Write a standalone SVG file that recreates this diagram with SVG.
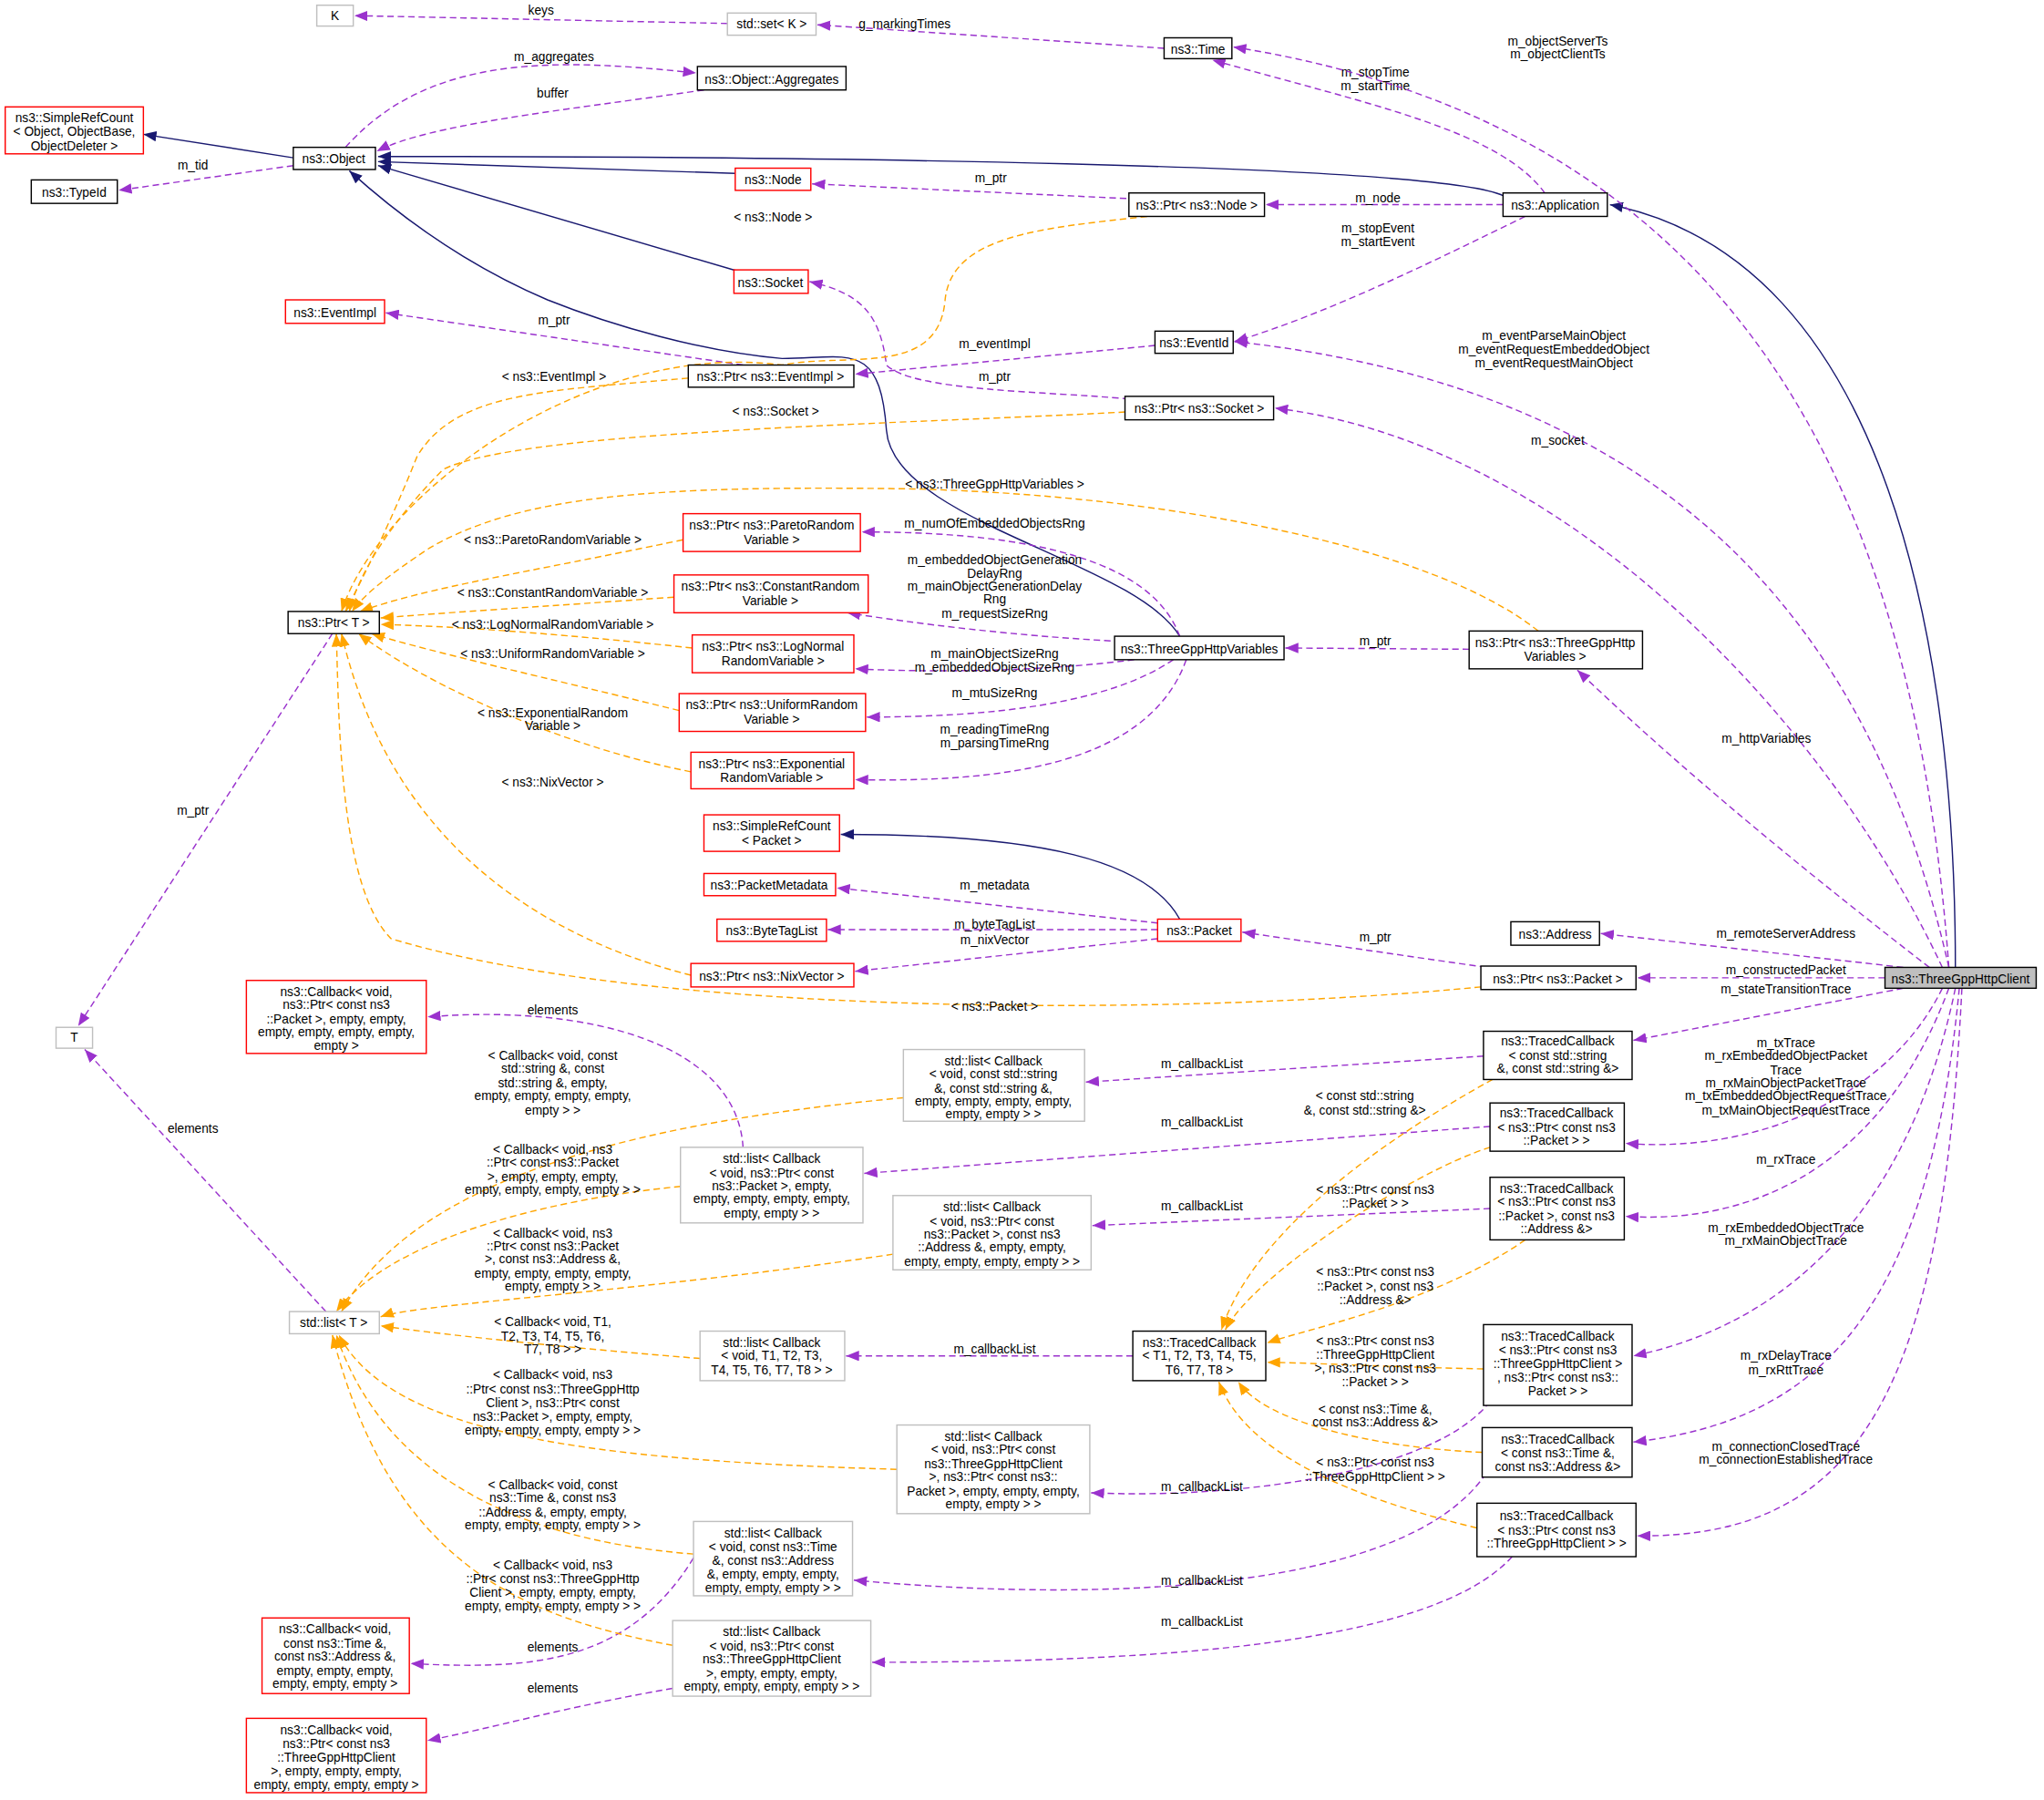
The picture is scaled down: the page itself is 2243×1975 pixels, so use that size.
<svg xmlns="http://www.w3.org/2000/svg" width="2243" height="1975" viewBox="0 0 2243 1975">
<style>
text{font-family:"Liberation Sans",Arial,sans-serif;font-size:9.6px;text-anchor:middle;fill:#000}
.b{fill:#fff;stroke:#000;stroke-width:1}
.r{fill:#fff;stroke:#ff0000;stroke-width:1}
.g{fill:#fff;stroke:#bfbfbf;stroke-width:1}
.s{fill:#bfbfbf;stroke:#000;stroke-width:1}
.n{fill:none;stroke:#191970;stroke-width:1;marker-end:url(#an)}
.p{fill:none;stroke:#9a32cd;stroke-width:1;stroke-dasharray:5,3;marker-end:url(#ap)}
.o{fill:none;stroke:#ffa500;stroke-width:1;stroke-dasharray:5,3;marker-end:url(#ao)}
</style>
<defs>
<marker id="an" viewBox="0 0 10 8" refX="10" refY="4" markerWidth="10" markerHeight="8" markerUnits="userSpaceOnUse" orient="auto"><path d="M0,0L10,4L0,8z" fill="#191970"/></marker>
<marker id="ap" viewBox="0 0 10 8" refX="10" refY="4" markerWidth="10" markerHeight="8" markerUnits="userSpaceOnUse" orient="auto"><path d="M0,0L10,4L0,8z" fill="#9a32cd"/></marker>
<marker id="ao" viewBox="0 0 10 8" refX="10" refY="4" markerWidth="10" markerHeight="8" markerUnits="userSpaceOnUse" orient="auto"><path d="M0,0L10,4L0,8z" fill="#ffa500"/></marker>
</defs>
<rect width="2243" height="1975" fill="#fff"/>
<g transform="scale(1.4305)">
<g id="connectors">
<path class="n" d="M225,121L110,103"/>
<path class="n" d="M1153,150C1100,125 600,120 290,120"/>
<path class="n" d="M564,133L290,124"/>
<path class="n" d="M566,208L290,127"/>
<path class="n" d="M905,488C870,430 685,400 680,330C675,260 650,275 600,275C540,270 470,250 420,230C350,200 300,160 268,131"/>
<path class="n" d="M1500,742C1500,500 1450,200 1235,157"/>
<path class="n" d="M905,705C880,660 800,640 645,640"/>
<path class="p" d="M558,18L272,12"/><text x="415" y="11">keys</text>
<path class="p" d="M893,37L627,19"/><text x="694" y="22">g_markingTimes</text>
<path class="p" d="M265,113C330,40 430,45 534,56"/><text x="425" y="47">m_aggregates</text>
<path class="p" d="M540,69C430,85 330,95 289,116"/><text x="424" y="75">buffer</text>
<path class="p" d="M225,127L91,146"/><text x="148" y="130">m_tid</text>
<path class="p" d="M880,153L623,141"/><text x="760" y="140">m_ptr</text>
<path class="p" d="M1153,157L971,157"/><text x="1057" y="155">m_node</text>
<path class="p" d="M1185,148C1150,100 1050,80 930,46"/><text x="1055" y="59">m_stopTime</text><text x="1055" y="69">m_startTime</text>
<path class="p" d="M1170,166C1100,200 1020,240 947,262"/><text x="1057" y="178">m_stopEvent</text><text x="1057" y="189">m_startEvent</text>
<path class="p" d="M886,265L656,287"/><text x="763" y="267">m_eventImpl</text>
<path class="p" d="M570,280L296,240"/><text x="425" y="249">m_ptr</text>
<path class="p" d="M866,306C800,300 700,300 680,280C675,240 660,225 621,216"/><text x="763" y="292">m_ptr</text>
<path class="p" d="M1495,742C1470,400 1350,100 946,36"/><text x="1195" y="35">m_objectServerTs</text><text x="1195" y="45">m_objectClientTs</text>
<path class="p" d="M1495,742C1440,500 1300,300 947,262"/><text x="1192" y="261">m_eventParseMainObject</text><text x="1192" y="271">m_eventRequestEmbeddedObject</text><text x="1192" y="282">m_eventRequestMainObject</text>
<path class="p" d="M1490,742C1400,550 1200,340 978,313"/><text x="1195" y="341">m_socket</text>
<path class="p" d="M1480,742C1400,680 1300,600 1210,514"/><text x="1355" y="570">m_httpVariables</text>
<path class="p" d="M1127,498L986,497"/><text x="1055" y="495">m_ptr</text>
<path class="p" d="M905,488C880,420 760,408 661,408"/><text x="763" y="405">m_numOfEmbeddedObjectsRng</text>
<path class="p" d="M860,492C780,488 700,478 650,470"/><text x="763" y="433">m_embeddedObjectGeneration</text><text x="763" y="443">DelayRng</text><text x="763" y="453">m_mainObjectGenerationDelay</text><text x="763" y="463">Rng</text><text x="763" y="474">m_requestSizeRng</text>
<path class="p" d="M870,506C800,515 720,516 656,513"/><text x="763" y="505">m_mainObjectSizeRng</text><text x="763" y="515">m_embeddedObjectSizeRng</text>
<path class="p" d="M900,506C850,540 760,550 665,550"/><text x="763" y="535">m_mtuSizeRng</text>
<path class="p" d="M910,506C880,590 760,600 656,598"/><text x="763" y="563">m_readingTimeRng</text><text x="763" y="573">m_parsingTimeRng</text>
<path class="p" d="M888,708L642,681"/><text x="763" y="682">m_metadata</text>
<path class="p" d="M888,713L635,713"/><text x="763" y="712">m_byteTagList</text>
<path class="p" d="M888,720L656,745"/><text x="763" y="724">m_nixVector</text>
<path class="p" d="M1140,742L953,715"/><text x="1055" y="722">m_ptr</text>
<path class="p" d="M1460,742L1228,716"/><text x="1370" y="719">m_remoteServerAddress</text>
<path class="p" d="M1446,750L1256,750"/><text x="1370" y="747">m_constructedPacket</text>
<path class="p" d="M1460,758L1253,798"/><text x="1370" y="762">m_stateTransitionTrace</text>
<path class="p" d="M1490,758C1450,840 1350,885 1247,877"/><text x="1370" y="803">m_txTrace</text><text x="1370" y="813">m_rxEmbeddedObjectPacket</text><text x="1370" y="824">Trace</text><text x="1370" y="834">m_rxMainObjectPacketTrace</text><text x="1370" y="844">m_txEmbeddedObjectRequestTrace</text><text x="1370" y="855">m_txMainObjectRequestTrace</text>
<path class="p" d="M1495,758C1450,880 1360,940 1247,933"/><text x="1370" y="893">m_rxTrace</text>
<path class="p" d="M1500,758C1460,950 1350,1020 1253,1040"/><text x="1370" y="945">m_rxEmbeddedObjectTrace</text><text x="1370" y="955">m_rxMainObjectTrace</text>
<path class="p" d="M1503,758C1480,1000 1400,1090 1253,1106"/><text x="1370" y="1043">m_rxDelayTrace</text><text x="1370" y="1054">m_rxRttTrace</text>
<path class="p" d="M1505,758C1490,1060 1430,1180 1256,1178"/><text x="1370" y="1113">m_connectionClosedTrace</text><text x="1370" y="1123">m_connectionEstablishedTrace</text>
<path class="p" d="M255,486L60,787"/><text x="148" y="625">m_ptr</text>
<path class="p" d="M250,1006L65,805"/><text x="148" y="869">elements</text>
<path class="p" d="M1138,810L833,830"/><text x="922" y="819">m_callbackList</text>
<path class="p" d="M1143,864L663,900"/><text x="922" y="864">m_callbackList</text>
<path class="p" d="M1143,927L838,940"/><text x="922" y="928">m_callbackList</text>
<path class="p" d="M869,1040L649,1040"/><text x="763" y="1038">m_callbackList</text>
<path class="p" d="M1143,1075C1100,1130 950,1150 837,1145"/><text x="922" y="1144">m_callbackList</text>
<path class="p" d="M1140,1130C1080,1220 850,1230 655,1212"/><text x="922" y="1216">m_callbackList</text>
<path class="p" d="M1160,1194C1100,1260 900,1275 669,1275"/><text x="922" y="1247">m_callbackList</text>
<path class="p" d="M570,880C565,800 450,770 328,780"/><text x="424" y="778">elements</text>
<path class="p" d="M532,1195C480,1280 400,1280 315,1276"/><text x="424" y="1267">elements</text>
<path class="p" d="M516,1295C430,1310 380,1325 328,1335"/><text x="424" y="1298">elements</text>
<path class="o" d="M880,166C800,175 730,180 725,230C720,290 650,270 600,280C450,260 290,380 262,469"/><text x="593" y="170">&lt; ns3::Node &gt;</text>
<path class="o" d="M528,290C420,300 350,300 320,350C300,400 280,440 265,469"/><text x="425" y="292">&lt; ns3::EventImpl &gt;</text>
<path class="o" d="M863,316C700,325 400,330 340,360C300,400 275,440 268,469"/><text x="595" y="319">&lt; ns3::Socket &gt;</text>
<path class="o" d="M1180,484C1100,420 900,380 700,375C500,372 400,380 330,420C300,440 280,455 270,469"/><text x="763" y="375">&lt; ns3::ThreeGppHttpVariables &gt;</text>
<path class="o" d="M524,414C400,440 330,450 276,469"/><text x="424" y="417">&lt; ns3::ParetoRandomVariable &gt;</text>
<path class="o" d="M517,458C420,465 340,470 292,474"/><text x="424" y="458">&lt; ns3::ConstantRandomVariable &gt;</text>
<path class="o" d="M531,497C420,485 340,480 292,479"/><text x="424" y="482">&lt; ns3::LogNormalRandomVariable &gt;</text>
<path class="o" d="M521,545C420,520 330,500 285,486"/><text x="424" y="505">&lt; ns3::UniformRandomVariable &gt;</text>
<path class="o" d="M530,592C420,570 320,520 275,486"/><text x="424" y="550">&lt; ns3::ExponentialRandom</text><text x="424" y="560">Variable &gt;</text>
<path class="o" d="M530,748C420,720 300,650 262,486"/><text x="424" y="603">&lt; ns3::NixVector &gt;</text>
<path class="o" d="M1136,757C900,780 500,780 300,720C260,680 260,550 258,486"/><text x="763" y="775">&lt; ns3::Packet &gt;</text>
<path class="o" d="M693,842C500,860 320,900 262,1006"/><text x="424" y="813">&lt; Callback&lt; void, const</text><text x="424" y="823">std::string &amp;, const</text><text x="424" y="834">std::string &amp;, empty,</text><text x="424" y="844">empty, empty, empty, empty,</text><text x="424" y="855">empty &gt; &gt;</text>
<path class="o" d="M522,910C420,920 300,950 258,1006"/><text x="424" y="885">&lt; Callback&lt; void, ns3</text><text x="424" y="895">::Ptr&lt; const ns3::Packet</text><text x="424" y="906">&gt;, empty, empty, empty,</text><text x="424" y="916">empty, empty, empty, empty &gt; &gt;</text>
<path class="o" d="M685,962C500,990 320,1000 292,1010"/><text x="424" y="949">&lt; Callback&lt; void, ns3</text><text x="424" y="959">::Ptr&lt; const ns3::Packet</text><text x="424" y="969">&gt;, const ns3::Address &amp;,</text><text x="424" y="980">empty, empty, empty, empty,</text><text x="424" y="990">empty, empty &gt; &gt;</text>
<path class="o" d="M537,1042C450,1035 350,1025 292,1017"/><text x="424" y="1017">&lt; Callback&lt; void, T1,</text><text x="424" y="1028">T2, T3, T4, T5, T6,</text><text x="424" y="1038">T7, T8 &gt; &gt;</text>
<path class="o" d="M688,1127C450,1120 300,1100 260,1024"/><text x="424" y="1058">&lt; Callback&lt; void, ns3</text><text x="424" y="1069">::Ptr&lt; const ns3::ThreeGppHttp</text><text x="424" y="1079">Client &gt;, ns3::Ptr&lt; const</text><text x="424" y="1090">ns3::Packet &gt;, empty, empty,</text><text x="424" y="1100">empty, empty, empty, empty &gt; &gt;</text>
<path class="o" d="M532,1192C380,1180 290,1120 258,1024"/><text x="424" y="1142">&lt; Callback&lt; void, const</text><text x="424" y="1152">ns3::Time &amp;, const ns3</text><text x="424" y="1163">::Address &amp;, empty, empty,</text><text x="424" y="1173">empty, empty, empty, empty &gt; &gt;</text>
<path class="o" d="M516,1262C400,1240 300,1200 255,1024"/><text x="424" y="1204">&lt; Callback&lt; void, ns3</text><text x="424" y="1214">::Ptr&lt; const ns3::ThreeGppHttp</text><text x="424" y="1225">Client &gt;, empty, empty, empty,</text><text x="424" y="1235">empty, empty, empty, empty &gt; &gt;</text>
<path class="o" d="M1145,828C1050,880 960,950 937,1020"/><text x="1047" y="844">&lt; const std::string</text><text x="1047" y="855">&amp;, const std::string &amp;&gt;</text>
<path class="o" d="M1143,880C1080,900 960,980 940,1020"/><text x="1055" y="916">&lt; ns3::Ptr&lt; const ns3</text><text x="1055" y="926">::Packet &gt; &gt;</text>
<path class="o" d="M1170,951C1100,1000 1000,1020 972,1030"/><text x="1055" y="979">&lt; ns3::Ptr&lt; const ns3</text><text x="1055" y="990">::Packet &gt;, const ns3</text><text x="1055" y="1000">::Address &amp;&gt;</text>
<path class="o" d="M1138,1050C1050,1048 1000,1045 972,1045"/><text x="1055" y="1032">&lt; ns3::Ptr&lt; const ns3</text><text x="1055" y="1042">::ThreeGppHttpClient</text><text x="1055" y="1053">&gt;, ns3::Ptr&lt; const ns3</text><text x="1055" y="1063">::Packet &gt; &gt;</text>
<path class="o" d="M1137,1114C1050,1110 970,1090 950,1060"/><text x="1055" y="1084">&lt; const ns3::Time &amp;,</text><text x="1055" y="1094">const ns3::Address &amp;&gt;</text>
<path class="o" d="M1133,1172C1000,1140 950,1100 935,1060"/><text x="1055" y="1125">&lt; ns3::Ptr&lt; const ns3</text><text x="1055" y="1136">::ThreeGppHttpClient &gt; &gt;</text>
</g>
<g id="K"><rect class="g" x="243" y="4" width="28" height="16"/><text x="257" y="15.5">K</text></g>
<g id="set"><rect class="g" x="558" y="10" width="68" height="17"/><text x="592" y="22">std::set&lt; K &gt;</text></g>
<g id="Time"><rect class="b" x="893" y="29" width="52" height="16"/><text x="919" y="41">ns3::Time</text></g>
<g id="Aggregates"><rect class="b" x="535" y="51" width="114" height="18"/><text x="592" y="64">ns3::Object::Aggregates</text></g>
<g id="SimpleRefCountObject"><rect class="r" x="4" y="82" width="106" height="36"/><text x="57" y="94">ns3::SimpleRefCount</text><text x="57" y="104">&lt; Object, ObjectBase,</text><text x="57" y="115">ObjectDeleter &gt;</text></g>
<g id="TypeId"><rect class="b" x="24" y="138" width="66" height="18"/><text x="57" y="151">ns3::TypeId</text></g>
<g id="Object"><rect class="b" x="225" y="113" width="63" height="17"/><text x="256" y="125">ns3::Object</text></g>
<g id="Node"><rect class="r" x="564" y="129" width="58" height="17"/><text x="593" y="141">ns3::Node</text></g>
<g id="PtrNode"><rect class="b" x="866" y="148" width="104" height="18"/><text x="918" y="161">ns3::Ptr&lt; ns3::Node &gt;</text></g>
<g id="Application"><rect class="b" x="1153" y="148" width="80" height="18"/><text x="1193" y="161">ns3::Application</text></g>
<g id="Socket"><rect class="r" x="563" y="207" width="57" height="18"/><text x="591" y="220">ns3::Socket</text></g>
<g id="EventImpl"><rect class="r" x="219" y="230" width="76" height="18"/><text x="257" y="243">ns3::EventImpl</text></g>
<g id="EventId"><rect class="b" x="886" y="254" width="60" height="17"/><text x="916" y="266">ns3::EventId</text></g>
<g id="PtrEventImpl"><rect class="b" x="528" y="280" width="127" height="17"/><text x="591" y="292">ns3::Ptr&lt; ns3::EventImpl &gt;</text></g>
<g id="PtrSocket"><rect class="b" x="863" y="304" width="114" height="18"/><text x="920" y="317">ns3::Ptr&lt; ns3::Socket &gt;</text></g>
<g id="PtrPareto"><rect class="r" x="524" y="394" width="136" height="29"/><text x="592" y="406">ns3::Ptr&lt; ns3::ParetoRandom</text><text x="592" y="417">Variable &gt;</text></g>
<g id="PtrConstant"><rect class="r" x="517" y="441" width="149" height="29"/><text x="591" y="453">ns3::Ptr&lt; ns3::ConstantRandom</text><text x="591" y="464">Variable &gt;</text></g>
<g id="PtrT"><rect class="b" x="221" y="469" width="70" height="17"/><text x="256" y="481">ns3::Ptr&lt; T &gt;</text></g>
<g id="PtrLogNormal"><rect class="r" x="531" y="487" width="124" height="29"/><text x="593" y="499">ns3::Ptr&lt; ns3::LogNormal</text><text x="593" y="510">RandomVariable &gt;</text></g>
<g id="Vars"><rect class="b" x="855" y="488" width="130" height="18"/><text x="920" y="501">ns3::ThreeGppHttpVariables</text></g>
<g id="PtrVars"><rect class="b" x="1127" y="484" width="133" height="29"/><text x="1193" y="496">ns3::Ptr&lt; ns3::ThreeGppHttp</text><text x="1193" y="507">Variables &gt;</text></g>
<g id="PtrUniform"><rect class="r" x="521" y="532" width="143" height="29"/><text x="592" y="544">ns3::Ptr&lt; ns3::UniformRandom</text><text x="592" y="555">Variable &gt;</text></g>
<g id="PtrExponential"><rect class="r" x="530" y="577" width="125" height="28"/><text x="592" y="589">ns3::Ptr&lt; ns3::Exponential</text><text x="592" y="600">RandomVariable &gt;</text></g>
<g id="SimpleRefCountPacket"><rect class="r" x="540" y="625" width="104" height="28"/><text x="592" y="637">ns3::SimpleRefCount</text><text x="592" y="648">&lt; Packet &gt;</text></g>
<g id="PacketMetadata"><rect class="r" x="540" y="670" width="101" height="17"/><text x="590" y="682">ns3::PacketMetadata</text></g>
<g id="ByteTagList"><rect class="r" x="550" y="705" width="84" height="17"/><text x="592" y="717">ns3::ByteTagList</text></g>
<g id="Packet"><rect class="r" x="888" y="705" width="64" height="17"/><text x="920" y="717">ns3::Packet</text></g>
<g id="Address"><rect class="b" x="1159" y="707" width="68" height="18"/><text x="1193" y="720">ns3::Address</text></g>
<g id="PtrNixVector"><rect class="r" x="530" y="739" width="125" height="18"/><text x="592" y="752">ns3::Ptr&lt; ns3::NixVector &gt;</text></g>
<g id="PtrPacket"><rect class="b" x="1136" y="741" width="119" height="18"/><text x="1195" y="754">ns3::Ptr&lt; ns3::Packet &gt;</text></g>
<g id="Client"><rect class="s" x="1446" y="742" width="116" height="16"/><text x="1504" y="754">ns3::ThreeGppHttpClient</text></g>
<g id="CallbackPacket"><rect class="r" x="189" y="752" width="138" height="56"/><text x="258" y="764">ns3::Callback&lt; void,</text><text x="258" y="774">ns3::Ptr&lt; const ns3</text><text x="258" y="785">::Packet &gt;, empty, empty,</text><text x="258" y="795">empty, empty, empty, empty,</text><text x="258" y="805">empty &gt;</text></g>
<g id="T"><rect class="g" x="43" y="788" width="28" height="16"/><text x="57" y="799">T</text></g>
<g id="TCString"><rect class="b" x="1138" y="791" width="114" height="37"/><text x="1195" y="802">ns3::TracedCallback</text><text x="1195" y="813">&lt; const std::string</text><text x="1195" y="823">&amp;, const std::string &amp;&gt;</text></g>
<g id="ListString"><rect class="g" x="693" y="805" width="139" height="55"/><text x="762" y="817">std::list&lt; Callback</text><text x="762" y="827">&lt; void, const std::string</text><text x="762" y="838">&amp;, const std::string &amp;,</text><text x="762" y="848">empty, empty, empty, empty,</text><text x="762" y="858">empty, empty &gt; &gt;</text></g>
<g id="TCPacket"><rect class="b" x="1143" y="846" width="103" height="37"/><text x="1194" y="857">ns3::TracedCallback</text><text x="1194" y="868">&lt; ns3::Ptr&lt; const ns3</text><text x="1194" y="878">::Packet &gt; &gt;</text></g>
<g id="ListPacket"><rect class="g" x="522" y="880" width="140" height="58"/><text x="592" y="892">std::list&lt; Callback</text><text x="592" y="903">&lt; void, ns3::Ptr&lt; const</text><text x="592" y="913">ns3::Packet &gt;, empty,</text><text x="592" y="923">empty, empty, empty, empty,</text><text x="592" y="934">empty, empty &gt; &gt;</text></g>
<g id="TCPacketAddress"><rect class="b" x="1143" y="903" width="103" height="48"/><text x="1194" y="915">ns3::TracedCallback</text><text x="1194" y="925">&lt; ns3::Ptr&lt; const ns3</text><text x="1194" y="936">::Packet &gt;, const ns3</text><text x="1194" y="946">::Address &amp;&gt;</text></g>
<g id="ListPacketAddress"><rect class="g" x="685" y="917" width="152" height="57"/><text x="761" y="929">std::list&lt; Callback</text><text x="761" y="940">&lt; void, ns3::Ptr&lt; const</text><text x="761" y="950">ns3::Packet &gt;, const ns3</text><text x="761" y="960">::Address &amp;, empty, empty,</text><text x="761" y="971">empty, empty, empty, empty &gt; &gt;</text></g>
<g id="ListT"><rect class="g" x="222" y="1006" width="69" height="17"/><text x="256" y="1018">std::list&lt; T &gt;</text></g>
<g id="ListT1"><rect class="g" x="537" y="1021" width="111" height="38"/><text x="592" y="1033">std::list&lt; Callback</text><text x="592" y="1043">&lt; void, T1, T2, T3,</text><text x="592" y="1054">T4, T5, T6, T7, T8 &gt; &gt;</text></g>
<g id="TCT1"><rect class="b" x="869" y="1021" width="102" height="38"/><text x="920" y="1033">ns3::TracedCallback</text><text x="920" y="1043">&lt; T1, T2, T3, T4, T5,</text><text x="920" y="1054">T6, T7, T8 &gt;</text></g>
<g id="TCClientPacket"><rect class="b" x="1138" y="1016" width="114" height="62"/><text x="1195" y="1028">ns3::TracedCallback</text><text x="1195" y="1039">&lt; ns3::Ptr&lt; const ns3</text><text x="1195" y="1049">::ThreeGppHttpClient &gt;</text><text x="1195" y="1060">, ns3::Ptr&lt; const ns3::</text><text x="1195" y="1070">Packet &gt; &gt;</text></g>
<g id="TCTimeAddress"><rect class="b" x="1137" y="1095" width="115" height="38"/><text x="1195" y="1107">ns3::TracedCallback</text><text x="1195" y="1118">&lt; const ns3::Time &amp;,</text><text x="1195" y="1128">const ns3::Address &amp;&gt;</text></g>
<g id="ListClientPacket"><rect class="g" x="688" y="1093" width="148" height="68"/><text x="762" y="1105">std::list&lt; Callback</text><text x="762" y="1115">&lt; void, ns3::Ptr&lt; const</text><text x="762" y="1126">ns3::ThreeGppHttpClient</text><text x="762" y="1136">&gt;, ns3::Ptr&lt; const ns3::</text><text x="762" y="1147">Packet &gt;, empty, empty, empty,</text><text x="762" y="1157">empty, empty &gt; &gt;</text></g>
<g id="TCClient"><rect class="b" x="1133" y="1153" width="122" height="41"/><text x="1194" y="1166">ns3::TracedCallback</text><text x="1194" y="1177">&lt; ns3::Ptr&lt; const ns3</text><text x="1194" y="1187">::ThreeGppHttpClient &gt; &gt;</text></g>
<g id="ListTimeAddress"><rect class="g" x="532" y="1167" width="122" height="57"/><text x="593" y="1179">std::list&lt; Callback</text><text x="593" y="1190">&lt; void, const ns3::Time</text><text x="593" y="1200">&amp;, const ns3::Address</text><text x="593" y="1211">&amp;, empty, empty, empty,</text><text x="593" y="1221">empty, empty, empty &gt; &gt;</text></g>
<g id="CallbackTime"><rect class="r" x="201" y="1241" width="113" height="58"/><text x="257" y="1253">ns3::Callback&lt; void,</text><text x="257" y="1264">const ns3::Time &amp;,</text><text x="257" y="1274">const ns3::Address &amp;,</text><text x="257" y="1285">empty, empty, empty,</text><text x="257" y="1295">empty, empty, empty &gt;</text></g>
<g id="ListClient"><rect class="g" x="516" y="1243" width="152" height="58"/><text x="592" y="1255">std::list&lt; Callback</text><text x="592" y="1266">&lt; void, ns3::Ptr&lt; const</text><text x="592" y="1276">ns3::ThreeGppHttpClient</text><text x="592" y="1287">&gt;, empty, empty, empty,</text><text x="592" y="1297">empty, empty, empty, empty &gt; &gt;</text></g>
<g id="CallbackClient"><rect class="r" x="189" y="1318" width="138" height="57"/><text x="258" y="1330">ns3::Callback&lt; void,</text><text x="258" y="1341">ns3::Ptr&lt; const ns3</text><text x="258" y="1351">::ThreeGppHttpClient</text><text x="258" y="1362">&gt;, empty, empty, empty,</text><text x="258" y="1372">empty, empty, empty, empty &gt;</text></g>
</g>
</svg>
